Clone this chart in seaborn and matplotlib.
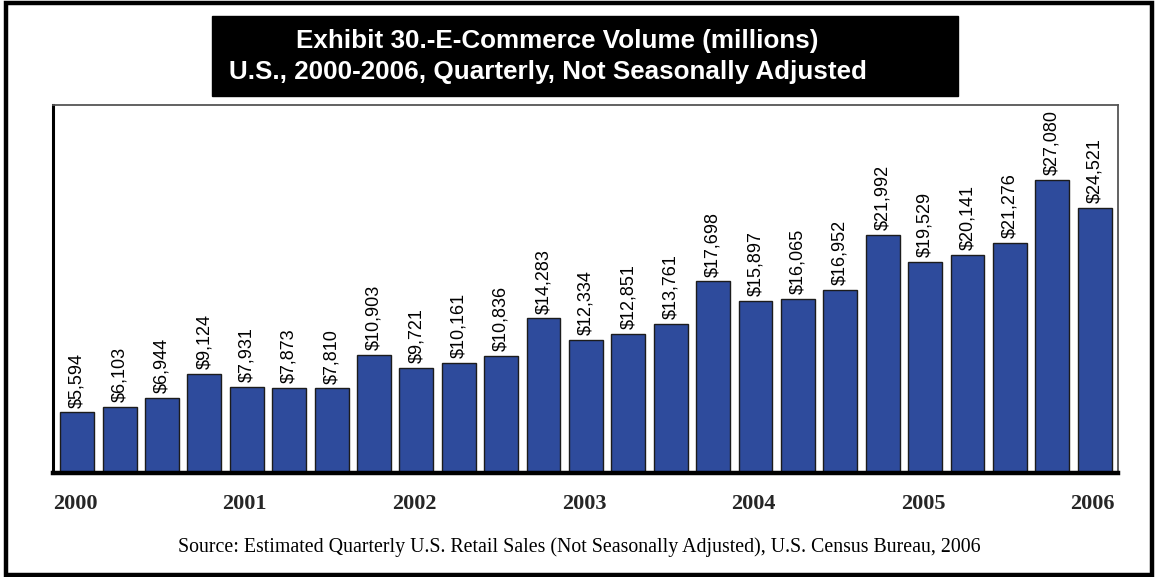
import matplotlib
matplotlib.use("Agg")
import matplotlib.pyplot as plt
from matplotlib.patches import Rectangle
from matplotlib.transforms import ScaledTranslation
import seaborn as sns
import pandas as pd

# Quarterly e-commerce volume, millions of dollars (2000 Q1 .. 2006 Q1)
quarters = [f"{y} Q{q}" for y in range(2000, 2006) for q in range(1, 5)] + ["2006 Q1"]
volume = [5594, 6103, 6944, 9124,
          7931, 7873, 7810, 10903,
          9721, 10161, 10836, 14283,
          12334, 12851, 13761, 17698,
          15897, 16065, 16952, 21992,
          19529, 20141, 21276, 27080,
          24521]
year_labels = ["2000", "2001", "2002", "2003", "2004", "2005", "2006"]

title_line1 = "Exhibit 30.-E-Commerce Volume (millions)"
title_line2 = "U.S., 2000-2006, Quarterly, Not Seasonally Adjusted"
source_note = ("Source: Estimated Quarterly U.S. Retail Sales (Not Seasonally Adjusted), "
               "U.S. Census Bureau, 2006")

df = pd.DataFrame({"quarter": quarters, "volume": volume})

sns.set_style("white")
plt.rcParams["font.family"] = ["Liberation Sans", "DejaVu Sans"]

W, H = 1156, 577
fig = plt.figure(figsize=(W / 100, H / 100), dpi=100)

def fx(px):
    return px / W

def fy(py):
    return 1 - py / H

ax = fig.add_axes([fx(53), fy(473), fx(1118) - fx(53), fy(105) - fy(473)])

sns.barplot(data=df, x="quarter", y="volume", color="#2E4B9C", saturation=1,
            width=0.8, edgecolor="#1c1c1c", linewidth=1.0, ax=ax)

ax.set_xlim(-0.57, 24.55)
ax.set_ylim(0, 34000)

ax.bar_label(ax.containers[0], labels=[f"${v:,}" for v in volume],
             rotation=90, padding=3.5, fontsize=13, color="black",
             family=["Liberation Sans", "DejaVu Sans"])

ax.set_xlabel("")
ax.set_ylabel("")
ax.set_yticks([])
ax.set_xticks(range(0, len(volume), 4))
ax.set_xticklabels(year_labels, family=["Liberation Serif", "DejaVu Serif"],
                   fontweight="bold", fontsize=16)
ax.tick_params(axis="x", length=0, pad=15)
shift = ScaledTranslation(-2 / 100, 0, fig.dpi_scale_trans)
for lbl in ax.get_xticklabels():
    lbl.set_transform(lbl.get_transform() + shift)

for side in ("top", "right"):
    ax.spines[side].set_color("#555555")
    ax.spines[side].set_linewidth(1.3)
ax.spines["left"].set_color("black")
ax.spines["left"].set_linewidth(2.2)
ax.spines["bottom"].set_color("black")
ax.spines["bottom"].set_linewidth(3.2)

# Outer frame
fig.patches.append(Rectangle((fx(5.5), fy(575)), fx(1151.5) - fx(5.5), fy(2.5) - fy(575),
                             transform=fig.transFigure, fill=False,
                             edgecolor="black", linewidth=3.2, zorder=0))

# Title banner
fig.patches.append(Rectangle((fx(212), fy(96)), fx(958) - fx(212), fy(16) - fy(96),
                             transform=fig.transFigure, facecolor="black",
                             edgecolor="black", zorder=1))
fig.text(fx(557), fy(41), title_line1, color="white", fontsize=18.7, fontweight="bold",
         ha="center", va="center", zorder=2)
fig.text(fx(547.5), fy(72), title_line2, color="white", fontsize=18.7, fontweight="bold",
         ha="center", va="center", zorder=2)

fig.text(fx(579.5), fy(547), source_note, fontsize=14.3, color="black",
         family=["Liberation Serif", "DejaVu Serif"], ha="center", va="center")

fig.savefig("out.png", dpi=100)
